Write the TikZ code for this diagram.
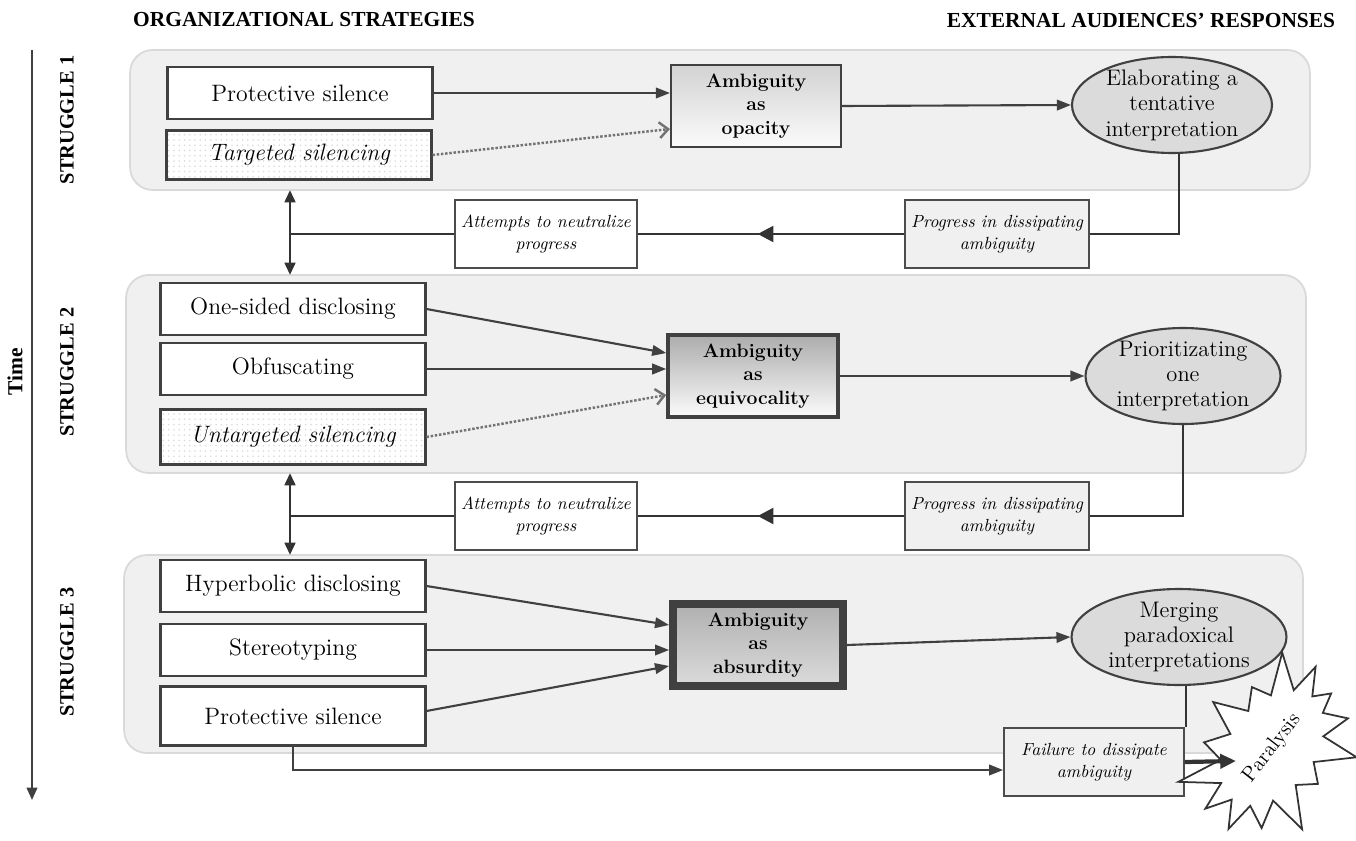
\documentclass[tikz,border=0pt]{standalone}
\usepackage{fontspec}
\newfontfamily\headfont{Liberation Serif}
\usetikzlibrary{arrows.meta,shapes.geometric,shapes.symbols,patterns,decorations.markings}

\begin{document}
\begin{tikzpicture}[x=0.02cm,y=-0.02cm,
    panel/.style={draw=gray!30,line width=1pt,fill=gray!12,rounded corners=0.45cm,outer sep=0pt},
    strat/.style={draw=black!75,line width=1.2pt,fill=white,minimum width=5.3cm,minimum height=1.05cm,font=\fontsize{13.5}{15}\selectfont},
    silbox/.style={strat,preaction={fill=white},pattern=dots,pattern color=gray!30,font=\fontsize{13.5}{15}\selectfont\itshape},
    ambig/.style={draw=black!75,line width=1.2pt,minimum width=3.4cm,minimum height=1.64cm,align=center,top color=gray!45,bottom color=gray!3,font=\fontsize{11}{13.5}\selectfont\bfseries},
    resp/.style={ellipse,draw=black!75,line width=1.2pt,fill=gray!28,align=center,minimum width=4cm,minimum height=1.92cm,inner xsep=0pt,inner ysep=-0.14cm,font=\fontsize{12.8}{14.5}\selectfont},
    link/.style={draw=black!70,line width=1pt,fill=gray!12,minimum width=3.6cm,minimum height=1.36cm,align=center,font=\fontsize{10}{12.5}\selectfont\itshape},
    head/.style={font=\headfont\fontsize{12.2}{14}\selectfont\bfseries},
    arr/.style={-{Triangle[length=8pt,width=6pt]},line width=1.2pt,black!75},
    dotarr/.style={-{Straight Barb[length=5pt,width=9pt]},densely dotted,line width=1.4pt,black!55},
    back/.style={line width=1.6pt,black!80},
    midarr/.style={back,postaction={decorate},decoration={markings,mark=at position 0.55 with {\arrow{Triangle[length=9pt,width=9pt]}}}},
    dbl/.style={{Triangle[length=7pt,width=6pt]}-{Triangle[length=7pt,width=6pt]},line width=1.6pt,black!80}]
\useasboundingbox (0,0) rectangle (1356,841);

% headings and time axis
\node[head] (hl) at (304,20) {ORGANIZATIONAL STRATEGIES};
\node[head] (hr) at (1141,20) {EXTERNAL AUDIENCES’ RESPONSES};
\coordinate (t0) at (32,50);
\coordinate (t1) at (32,800);
\draw[-{Triangle[length=7pt,width=6pt]},line width=1.2pt,black!75] (t0) -- (t1);
\node[head,rotate=90] (time) at (15,372) {Time};
\node[head,rotate=90,font=\headfont\fontsize{11.6}{13}\selectfont\bfseries] (s1) at (67,120) {STRUGGLE 1};
\node[head,rotate=90,font=\headfont\fontsize{11.6}{13}\selectfont\bfseries] (s2) at (67,372) {STRUGGLE 2};
\node[head,rotate=90,font=\headfont\fontsize{11.6}{13}\selectfont\bfseries] (s3) at (67,652) {STRUGGLE 3};

% panels
\node[panel,minimum width=23.6cm,minimum height=2.8cm] (p1) at (720,120) {};
\node[panel,minimum width=23.6cm,minimum height=3.96cm] (p2) at (716,374) {};
\node[panel,minimum width=23.58cm,minimum height=3.96cm] (p3) at (713.5,654) {};

% struggle 1
\node[strat] (ps1) at (300,93) {Protective silence};
\node[silbox,minimum height=0.98cm] (ts1) at (299,155) {Targeted silencing};
\node[ambig,top color=gray!35] (op) at (756,106) {Ambiguity\\as\\opacity};
\node[resp] (e1) at (1172,105) {Elaborating a\\tentative\\interpretation};
\draw[arr] (ps1.east) -- (ps1.east -| op.west);
\draw[dotarr] (ts1.east) -- ([yshift=-0.46cm]op.west);
\draw[arr] (op.east) -- (e1.west);

% back link 1
\node[link] (pr1) at (997,234) {Progress in dissipating\\ambiguity};
\node[link,fill=white] (at1) at (546,234) {Attempts to neutralize\\progress};
\coordinate (j1) at (290,234);
\draw[back] ([xshift=4]e1.south) |- (pr1.east);
\draw[midarr] (pr1.west) -- (at1.east);
\draw[back] (at1.west) -- (j1);
\draw[dbl] (p1.south -| j1) -- (p2.north -| j1);

% struggle 2
\node[strat] (os) at (293,309) {One-sided disclosing};
\node[strat] (ob) at (293,369) {Obfuscating};
\node[silbox,minimum height=1.1cm] (us) at (293,437) {Untargeted silencing};
\node[ambig,line width=2pt,top color=gray!65] (eq) at (753,376) {Ambiguity\\as\\equivocality};
\node[resp,minimum width=3.9cm] (e2) at (1183,376) {Prioritizating\\one\\interpretation};
\draw[arr] (os.east) -- ([yshift=0.46cm]eq.west);
\draw[arr] (ob.east) -- (ob.east -| eq.west);
\draw[dotarr] (us.east) -- ([yshift=-0.38cm]eq.west);
\draw[arr] (eq.east) -- (e2.west);

% back link 2
\node[link] (pr2) at (997,516) {Progress in dissipating\\ambiguity};
\node[link,fill=white] (at2) at (546,516) {Attempts to neutralize\\progress};
\coordinate (j2) at (290,516);
\draw[back] (e2.south) |- (pr2.east);
\draw[midarr] (pr2.west) -- (at2.east);
\draw[back] (at2.west) -- (j2);
\draw[dbl] (p2.south -| j2) -- (p3.north -| j2);

% struggle 3
\node[strat] (hd) at (293,586) {Hyperbolic disclosing};
\node[strat] (st) at (293,650) {Stereotyping};
\node[strat,minimum height=1.18cm] (ps3) at (293,716) {Protective silence};
\node[ambig,line width=4.5pt,top color=gray!62,bottom color=gray!28] (ab) at (758,645) {Ambiguity\\as\\absurdity};
\node[resp,minimum width=4.3cm] (e3) at (1179,637) {Merging\\paradoxical\\interpretations};
\draw[arr] (hd.east) -- ([yshift=0.4cm]ab.west);
\draw[arr] (st.east) -- (st.east -| ab.west);
\draw[arr] ([yshift=0.1cm]ps3.east) -- ([yshift=-0.42cm]ab.west);
\draw[arr] (ab.east) -- (e3.west);

% failure and paralysis
\node[link] (fl) at (1094,762) {Failure to dissipate\\ambiguity};
\node[starburst,draw=black!80,fill=white,line width=1pt,starburst points=14,starburst point height=0.9cm,minimum width=3.5cm,minimum height=3.5cm,rotate=52,font=\fontsize{12}{14}\selectfont] (par) at (1272,748) {Paralysis};
\coordinate (pin) at (1236,761);
\draw[back] ([xshift=4]e3.south) -- ([xshift=4]e3.south |- fl.north);
\draw[arr] (ps3.south) |- ([yshift=-0.16cm]fl.west);
\draw[-{Triangle[length=9pt,width=8pt]},line width=2.4pt,black!80] (fl.east) -- (pin);
\end{tikzpicture}
\end{document}
